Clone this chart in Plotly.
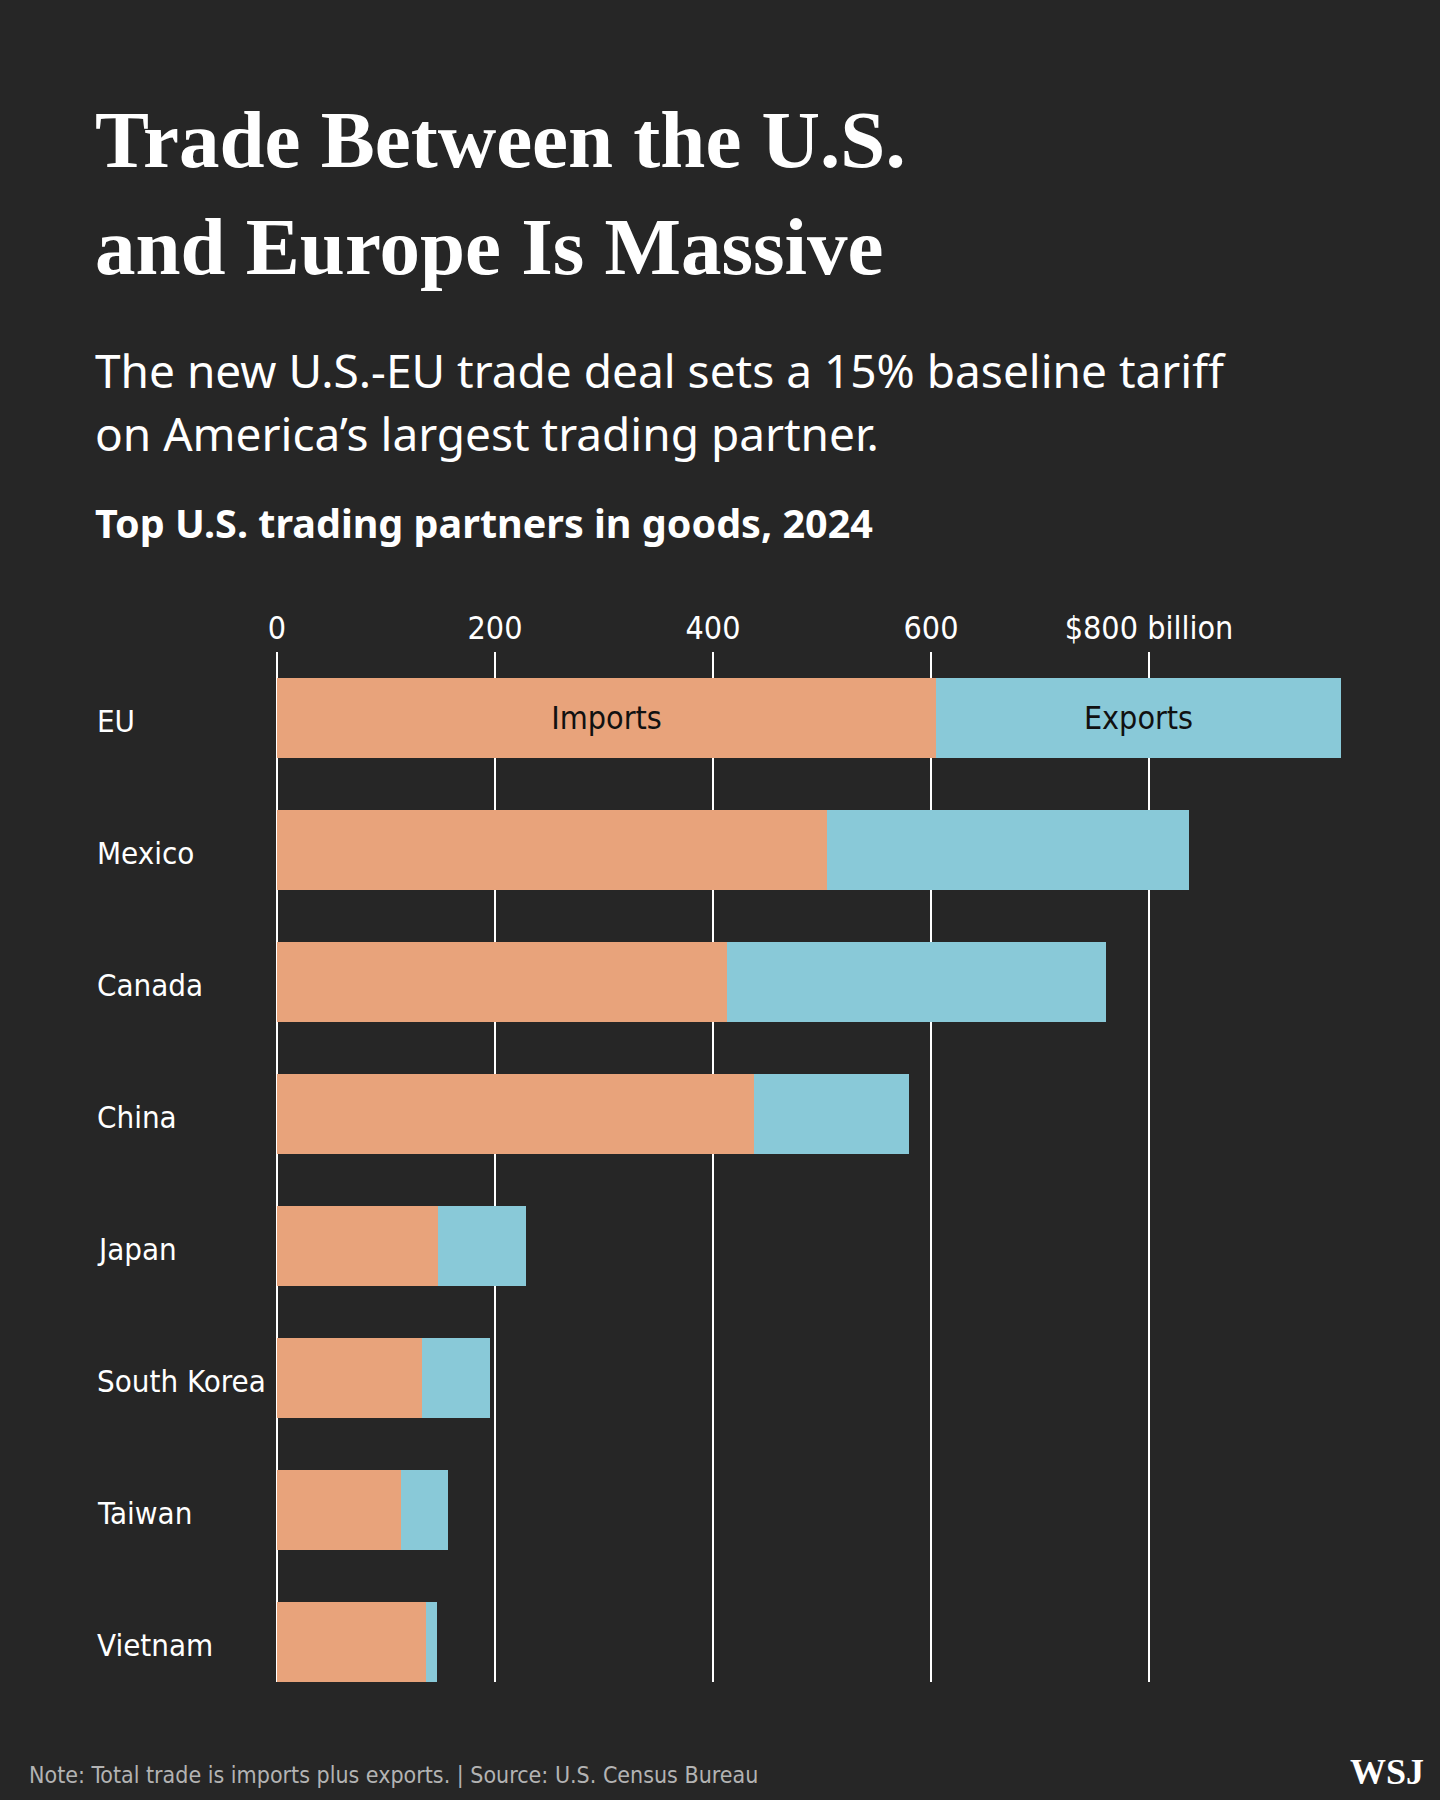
import plotly.graph_objects as go

# Top U.S. trading partners in goods, 2024 ($ billion)
partners = ["EU", "Mexico", "Canada", "China", "Japan", "South Korea", "Taiwan", "Vietnam"]
imports = [605, 505, 413, 438, 148, 133, 114, 137]
exports = [371, 332, 348, 142, 80, 62, 43, 10]
bar_labels = ["Imports", "Exports"]

tick_vals = [0, 200, 400, 600, 800]
tick_text = ["0", "200", "400", "600", "$800 billion"]

title_lines = ["Trade Between the U.S.", "and Europe Is Massive"]
subtitle_lines = [
    "The new U.S.-EU trade deal sets a 15% baseline tariff",
    "on America\u2019s largest trading partner.",
]
heading = "Top U.S. trading partners in goods, 2024"
footer = "Note: Total trade is imports plus exports. | Source: U.S. Census Bureau"

BG = "#262626"
ORANGE = "#E8A37B"
BLUE = "#89C9D8"
NARROW = "Liberation Sans Narrow, DejaVu Sans Condensed, Roboto, sans-serif"
SERIF = "Liberation Serif, DejaVu Serif, serif"
SANS = "Noto Sans, Open Sans, sans-serif"

W, H = 1440, 1800
L, R, T, B = 277, 73, 652, 118
PW, PH = W - L - R, H - T - B


def px(x):
    return (x - L) / PW


def py(y):
    return (H - B - y) / PH


fig = go.Figure()
for vals, label, colour in ((imports, bar_labels[0], ORANGE), (exports, bar_labels[1], BLUE)):
    fig.add_trace(go.Bar(
        y=partners, x=vals, orientation="h", name=label,
        marker=dict(color=colour, line=dict(width=0)), width=0.606,
        text=[label] + [""] * (len(partners) - 1),
        textposition="inside", insidetextanchor="middle", textangle=0,
        textfont=dict(family=NARROW, size=32, color="#111111"),
        hoverinfo="x+y",
    ))

annotations = []
for i, line in enumerate(title_lines):
    annotations.append(dict(
        text=f"<b>{line}</b>", x=px(93), y=py(140 + 107 * i), xanchor="left", yanchor="middle",
        font=dict(family=SERIF, size=81, color="white"),
    ))
for i, line in enumerate(subtitle_lines):
    annotations.append(dict(
        text=line, x=px(93), y=py(370 + 63 * i), xanchor="left", yanchor="middle",
        font=dict(family=SANS, size=46, color="white"),
    ))
annotations.append(dict(
    text=f"<b>{heading}</b>", x=px(93), y=py(523), xanchor="left", yanchor="middle",
    font=dict(family=SANS, size=39.5, color="white"),
))
for name in partners:
    annotations.append(dict(
        text=name, x=px(95), xref="paper", y=name, yref="y", xanchor="left", yanchor="middle",
        font=dict(family=NARROW, size=31, color="white"), yshift=-3,
    ))
annotations.append(dict(
    text=footer, x=px(27), y=py(1775), xanchor="left", yanchor="middle",
    font=dict(family=NARROW, size=23, color="#b3b3b3"),
))
annotations.append(dict(
    text="<b>WSJ</b>", x=px(1426), y=py(1772), xanchor="right", yanchor="middle",
    font=dict(family=SERIF, size=36, color="white"),
))
for a in annotations:
    a.setdefault("xref", "paper")
    a.setdefault("yref", "paper")
    a["showarrow"] = False

fig.update_layout(
    width=W, height=H, barmode="stack", showlegend=False,
    paper_bgcolor=BG, plot_bgcolor=BG,
    margin=dict(l=L, r=R, t=T, b=B, pad=0),
    annotations=annotations,
    bargap=0,
)
fig.update_xaxes(
    side="top", range=[0, PW / 1.09], tickvals=tick_vals, ticktext=tick_text,
    showgrid=True, gridcolor="white", gridwidth=2, zeroline=True, zerolinecolor="white",
    zerolinewidth=2, showline=False, ticks="", ticklabelstandoff=6,
    tickfont=dict(family=NARROW, size=32, color="white"), fixedrange=True,
)
fig.update_yaxes(
    autorange=False, range=[len(partners) - 1 + 40 / 132, -0.5], showticklabels=False,
    showgrid=False, zeroline=False, showline=False, ticks="", fixedrange=True,
)

# drop the browser's default page margin so the dark panel fills the window
fig.write_html(
    "out.html",
    config={"displayModeBar": False},
    post_script="document.body.style.margin='0';document.body.style.background='#262626';",
)
